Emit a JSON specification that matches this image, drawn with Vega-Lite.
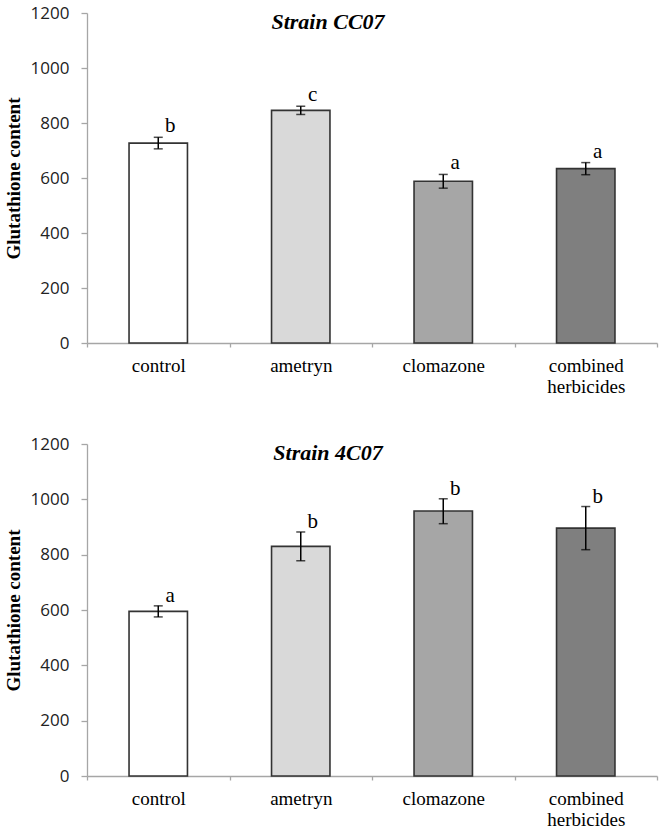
{
  "$schema": "https://vega.github.io/schema/vega-lite/v6.json",
  "background": "white",
  "padding": {"left": 4, "top": 4, "right": 6, "bottom": 0},
  "config": {
    "view": {"stroke": null},
    "axis": {"grid": false, "domainColor": "#a6a6a6", "tickColor": "#a6a6a6", "domainWidth": 1.3, "tickWidth": 1.3},
    "title": {"font": "Liberation Serif", "fontSize": 22, "fontWeight": "bold", "fontStyle": "italic", "color": "#000000", "baseline": "alphabetic", "offset": -30, "dx": -44, "anchor": "middle"}
  },
  "datasets": {
    "glut": [
      {"strain": "CC07", "treatment": "control", "mean": 727, "lo": 706, "hi": 748, "letter": "b"},
      {"strain": "CC07", "treatment": "ametryn", "mean": 846, "lo": 831, "hi": 861, "letter": "c"},
      {"strain": "CC07", "treatment": "clomazone", "mean": 588, "lo": 563, "hi": 613, "letter": "a"},
      {"strain": "CC07", "treatment": "combined herbicides", "mean": 634, "lo": 612, "hi": 656, "letter": "a"},
      {"strain": "4C07", "treatment": "control", "mean": 595, "lo": 575, "hi": 615, "letter": "a"},
      {"strain": "4C07", "treatment": "ametryn", "mean": 830, "lo": 778, "hi": 882, "letter": "b"},
      {"strain": "4C07", "treatment": "clomazone", "mean": 958, "lo": 912, "hi": 1002, "letter": "b"},
      {"strain": "4C07", "treatment": "combined herbicides", "mean": 896, "lo": 818, "hi": 974, "letter": "b"}
    ]
  },
  "spacing": 39,
  "vconcat": [
    {
      "title": "Strain CC07",
      "width": 570,
      "height": 330,
      "data": {"name": "glut"},
      "transform": [{"filter": "datum.strain === 'CC07'"}],
      "encoding": {
        "x": {
          "field": "treatment", "type": "nominal", "sort": ["control", "ametryn", "clomazone", "combined herbicides"],
          "scale": {"paddingInner": 0, "paddingOuter": 0},
          "axis": {"title": null, "labelAngle": 0, "tickBand": "extent", "tickSize": 4, "labelPadding": 9, "labelFont": "Liberation Serif", "labelFontSize": 19, "labelColor": "#000000", "labelLineHeight": 21,
            "labelExpr": "datum.label == 'combined herbicides' ? ['combined', 'herbicides'] : datum.label"}
        }
      },
      "layer": [
        {
          "mark": {"type": "bar", "width": {"band": 0.41}, "stroke": "#333333", "strokeWidth": 1.6},
          "encoding": {
            "y": {"field": "mean", "type": "quantitative", "scale": {"domain": [0, 1200]},
              "axis": {"title": "Glutathione content", "format": "d", "values": [0, 200, 400, 600, 800, 1000, 1200], "tickSize": 6, "labelPadding": 12, "labelFont": "Open Sans", "labelFontSize": 17, "labelColor": "#222222", "titleFont": "Liberation Serif", "titleFontSize": 19, "titleFontWeight": "bold", "titleColor": "#000000", "titlePadding": 7}},
            "fill": {"field": "treatment", "type": "nominal", "legend": null,
              "scale": {"domain": ["control", "ametryn", "clomazone", "combined herbicides"], "range": ["#ffffff", "#d9d9d9", "#a6a6a6", "#7f7f7f"]}}
          }
        },
        {
          "mark": {"type": "rule", "color": "#000000", "strokeWidth": 1.5},
          "encoding": {"y": {"field": "lo", "type": "quantitative"}, "y2": {"field": "hi"}}
        },
        {
          "mark": {"type": "tick", "color": "#000000", "size": 9, "thickness": 1.5},
          "encoding": {"y": {"field": "lo", "type": "quantitative"}}
        },
        {
          "mark": {"type": "tick", "color": "#000000", "size": 9, "thickness": 1.5},
          "encoding": {"y": {"field": "hi", "type": "quantitative"}}
        },
        {
          "mark": {"type": "text", "font": "Liberation Serif", "fontSize": 21, "fontWeight": "normal", "color": "#000000", "baseline": "alphabetic", "dx": 12, "dy": -5},
          "encoding": {"y": {"field": "hi", "type": "quantitative"}, "text": {"field": "letter"}}
        }
      ]
    },
    {
      "title": "Strain 4C07",
      "width": 570,
      "height": 332,
      "data": {"name": "glut"},
      "transform": [{"filter": "datum.strain === '4C07'"}],
      "encoding": {
        "x": {
          "field": "treatment", "type": "nominal", "sort": ["control", "ametryn", "clomazone", "combined herbicides"],
          "scale": {"paddingInner": 0, "paddingOuter": 0},
          "axis": {"title": null, "labelAngle": 0, "tickBand": "extent", "tickSize": 4, "labelPadding": 9, "labelFont": "Liberation Serif", "labelFontSize": 19, "labelColor": "#000000", "labelLineHeight": 21,
            "labelExpr": "datum.label == 'combined herbicides' ? ['combined', 'herbicides'] : datum.label"}
        }
      },
      "layer": [
        {
          "mark": {"type": "bar", "width": {"band": 0.41}, "stroke": "#333333", "strokeWidth": 1.6},
          "encoding": {
            "y": {"field": "mean", "type": "quantitative", "scale": {"domain": [0, 1200]},
              "axis": {"title": "Glutathione content", "format": "d", "values": [0, 200, 400, 600, 800, 1000, 1200], "tickSize": 6, "labelPadding": 12, "labelFont": "Open Sans", "labelFontSize": 17, "labelColor": "#222222", "titleFont": "Liberation Serif", "titleFontSize": 19, "titleFontWeight": "bold", "titleColor": "#000000", "titlePadding": 7}},
            "fill": {"field": "treatment", "type": "nominal", "legend": null,
              "scale": {"domain": ["control", "ametryn", "clomazone", "combined herbicides"], "range": ["#ffffff", "#d9d9d9", "#a6a6a6", "#7f7f7f"]}}
          }
        },
        {
          "mark": {"type": "rule", "color": "#000000", "strokeWidth": 1.5},
          "encoding": {"y": {"field": "lo", "type": "quantitative"}, "y2": {"field": "hi"}}
        },
        {
          "mark": {"type": "tick", "color": "#000000", "size": 9, "thickness": 1.5},
          "encoding": {"y": {"field": "lo", "type": "quantitative"}}
        },
        {
          "mark": {"type": "tick", "color": "#000000", "size": 9, "thickness": 1.5},
          "encoding": {"y": {"field": "hi", "type": "quantitative"}}
        },
        {
          "mark": {"type": "text", "font": "Liberation Serif", "fontSize": 21, "fontWeight": "normal", "color": "#000000", "baseline": "alphabetic", "dx": 12, "dy": -4},
          "encoding": {"y": {"field": "hi", "type": "quantitative"}, "text": {"field": "letter"}}
        }
      ]
    }
  ]
}
